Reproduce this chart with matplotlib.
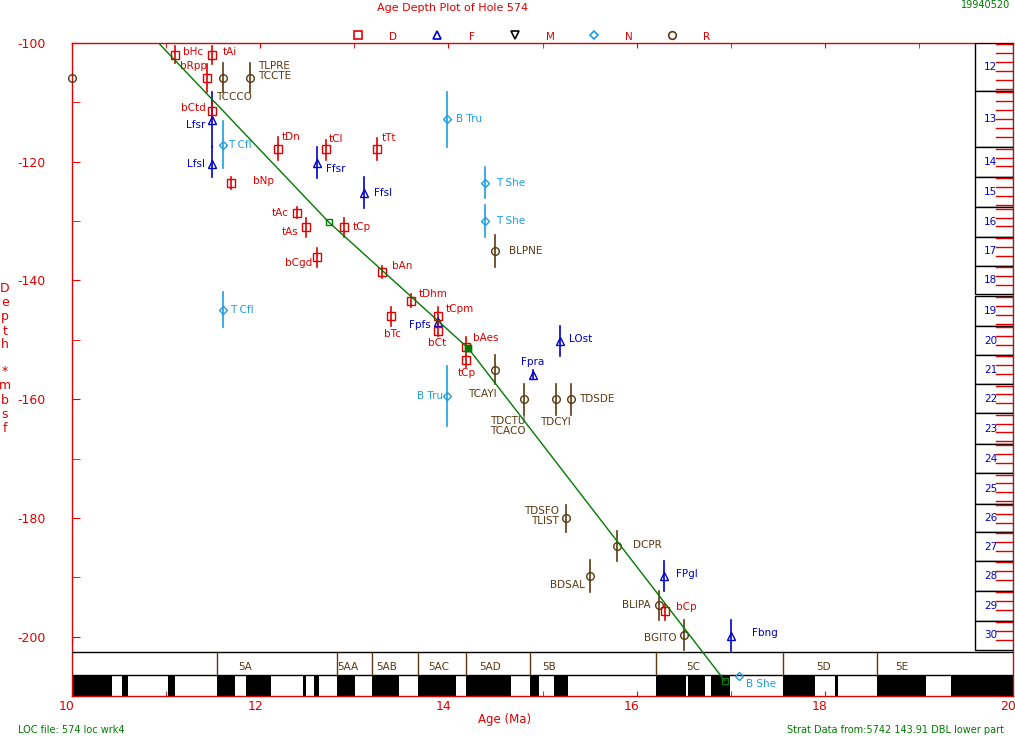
import matplotlib
matplotlib.use("Agg")
import matplotlib.pyplot as plt
import matplotlib.transforms as mtransforms
from matplotlib.patches import Rectangle
from matplotlib.lines import Line2D

plt.rcParams["font.family"] = ["DejaVu Sans"]
plt.rcParams["font.size"] = 7.5
plt.rcParams["axes.unicode_minus"] = False

# ---------------- data ----------------
# Diatom events (D)
names_D = ["bHc", "tAi", "bRpp", "bCtd", "tDn", "tCl", "tTt", "bNp", "tAc", "tAs",
           "tCp", "bCgd", "bAn", "tDhm", "bTc", "tCpm", "bCt", "bAes", "tCp", "bCp"]
age_D = [11.09, 11.49, 11.43, 11.49, 12.19, 12.70, 13.24, 11.69, 12.39, 12.49,
         12.89, 12.60, 13.29, 13.60, 13.39, 13.89, 13.89, 14.19, 14.19, 16.30]
depth_D = [-102.0, -102.0, -105.9, -111.5, -117.9, -117.9, -117.9, -123.6, -128.6, -131.0,
           -131.0, -136.0, -138.6, -143.5, -146.0, -146.0, -148.5, -151.2, -153.4, -195.7]
top_D = [-100.5, -100.5, -103.5, -109.8, -115.8, -116.3, -116.0, -122.5, -127.6, -129.4,
         -129.5, -134.5, -137.6, -142.3, -144.5, -144.5, -147.7, -149.5, -152.7, -194.5]
bot_D = [-103.4, -103.5, -108.3, -112.5, -119.7, -119.7, -119.7, -124.6, -129.5, -132.7,
         -132.6, -137.7, -139.6, -144.4, -147.7, -147.5, -149.4, -152.7, -154.5, -197.2]

# Foraminifer events (F)
names_F = ["Lfsr", "Lfsl", "Ffsr", "Ffsl", "Fpfs", "Fpra", "LOst", "FPgl", "Fbng"]
age_F = [11.49, 11.49, 12.60, 13.10, 13.89, 14.90, 15.19, 16.29, 17.00]
depth_F = [-112.9, -120.3, -120.2, -125.2, -147.0, -155.9, -150.2, -189.8, -199.9]
top_F = [-108.2, -117.5, -117.5, -122.5, -146.4, -155.1, -147.7, -187.3, -197.2]
bot_F = [-117.5, -122.5, -122.7, -127.8, -147.6, -156.6, -152.7, -192.3, -202.4]

# Nannofossil events (N)
names_N = ["T Cfl", "T Cfl", "B Tru", "T She", "T She", "B Tru", "B She"]
age_N = [11.60, 11.60, 13.99, 14.39, 14.39, 13.99, 17.09]
depth_N = [-117.1, -145.0, -112.8, -123.6, -130.0, -159.4, -206.6]
top_N = [-113.1, -142.0, -108.3, -120.9, -127.3, -154.4, -206.6]
bot_N = [-121.1, -147.9, -117.6, -126.1, -132.7, -164.5, -206.6]

# Radiolarian events (R)
names_R = ["", "TCCCO", "TLPRE\nTCCTE", "BLPNE", "TCAYI", "TDCTU\nTCACO", "TDCYI",
           "TDSDE", "TDSFO\nTLIST", "DCPR", "BDSAL", "BLIPA", "BGITO"]
age_R = [10.00, 11.60, 11.89, 14.49, 14.49, 14.80, 15.14, 15.30, 15.25, 15.79, 15.50, 16.24, 16.50]
depth_R = [-105.9, -105.9, -105.9, -135.0, -155.1, -160.0, -160.0, -160.0, -180.0, -184.7,
           -189.8, -194.7, -199.7]
top_R = [-105.9, -103.4, -103.4, -132.4, -152.6, -157.5, -157.5, -157.5, -177.8, -182.2,
         -187.1, -192.3, -197.2]
bot_R = [-105.9, -108.2, -108.3, -137.7, -157.5, -162.6, -162.6, -162.6, -182.3, -187.2,
         -192.4, -197.2, -202.3]

# Line of correlation (tie points)
loc_age = [10.92, 12.73, 14.21, 16.94]
loc_depth = [-100.0, -130.2, -151.4, -207.5]

# Magnetic polarity: normal intervals (Ma)
normal_start = [10.00, 10.53, 11.02, 11.54, 11.85, 12.45, 12.57, 12.82, 13.19, 13.68,
                14.19, 14.87, 15.12, 16.21, 16.55, 16.79, 17.56, 18.11, 18.55, 19.34]
normal_end = [10.42, 10.60, 11.09, 11.73, 12.11, 12.49, 12.62, 13.01, 13.47, 14.08,
              14.67, 14.96, 15.27, 16.53, 16.73, 16.99, 17.90, 18.14, 19.08, 20.00]

# Chrons
chron_bounds = [11.54, 12.82, 13.19, 13.68, 14.19, 14.87, 16.21, 17.56, 18.55]
chron_names = ["5A", "5AA", "5AB", "5AC", "5AD", "5B", "5C", "5D", "5E"]
chron_label_age = [11.77, 12.82, 13.23, 13.78, 14.33, 15.00, 16.53, 17.91, 18.75]

# Cores (mbsf, negative down)
core_num = list(range(12, 31))
core_top = [-100.0, -108.1, -117.6, -122.6, -127.7, -132.7, -137.5, -142.6, -147.7, -152.6,
            -157.5, -162.4, -167.6, -172.5, -177.6, -182.4, -187.3, -192.3, -197.3]
core_bot = [-108.1, -117.6, -122.6, -127.7, -132.7, -137.5, -142.2, -147.7, -152.6, -157.5,
            -162.4, -167.6, -172.5, -177.6, -182.4, -187.3, -192.3, -197.3, -202.3]
section_len = 1.5

# ---------------- styles / layout ----------------
RED = "#E00000"
BLUE = "#0000CC"
CYAN = "#1E9EE0"
BROWN = "#5A3812"
GREEN = "#007A00"

# label offsets in pixels (dx, dy, ha)
lab_D = [(8, 3, "left"), (10, 3, "left"), (0, 12, "right"), (-6, 3, "right"), (4, 12, "left"),
         (3, 10, "left"), (5, 11, "left"), (22, 2, "left"), (-8, 0, "right"), (-8, -5, "right"),
         (9, 0, "left"), (-4, -6, "right"), (10, 6, "left"), (8, 7, "left"), (1, -18, "center"),
         (8, 7, "left"), (-1, -12, "center"), (7, 9, "left"), (0, -13, "center"), (11, 4, "left")]
lab_F = [(-7, -5, "right"), (-7, 0, "right"), (9, -6, "left"), (10, 0, "left"), (-7, -3, "right"),
         (0, 13, "center"), (9, 2, "left"), (12, 2, "left"), (21, 3, "left")]
lab_N = [(6, 0, "left"), (8, 0, "left"), (9, 0, "left"), (11, 0, "left"), (11, 0, "left"),
         (-4, 0, "right"), (7, -8, "left")]
lab_R = [(0, 0, "left"), (-6, -19, "left"), (8, 7, "left"), (14, 0, "left"), (2, -24, "right"),
         (-34, -27, "left"), (0, -23, "center"), (8, 0, "left"), (-7, 2, "right"), (16, 1, "left"),
         (-5, -9, "right"), (-9, 0, "right"), (-7, -3, "right")]

W, H = 1015, 737
fig = plt.figure(figsize=(W / 100, H / 100), dpi=100)
ax = fig.add_axes([72 / W, 1 - 696 / H, (1013 - 72) / W, (696 - 43) / H])
ax.set_xlim(10, 20)
ax.set_ylim(-210.0, -100.0)

for sp in ax.spines.values():
    sp.set_color(RED)
    sp.set_linewidth(1.0)

ax.set_xticks(range(10, 21, 2))
ax.set_xticks(range(11, 20, 2), minor=True)
ax.set_yticks(range(-200, -99, 20))
ax.set_yticks(range(-210, -99, 10), minor=True)
ax.tick_params(axis="x", which="both", direction="in", length=3.6, color=RED,
               labelcolor=RED, labelsize=9, top=True, pad=3)
ax.tick_params(axis="y", which="both", direction="in", length=5.8, color=RED,
               labelcolor=RED, labelsize=9, pad=19)
ax.tick_params(axis="y", which="minor", labelleft=False)

# age labels sit a few pixels left of their ticks
shift = mtransforms.ScaledTranslation(-5 / 100, 0, fig.dpi_scale_trans)
for lbl in ax.get_xticklabels():
    lbl.set_transform(lbl.get_transform() + shift)

data_x_axes_y = mtransforms.blended_transform_factory(ax.transData, ax.transAxes)
axes_x_data_y = mtransforms.blended_transform_factory(ax.transAxes, ax.transData)

# chron band and polarity stripes
band_top = (696 - 652) / 653
stripe_top = (696 - 675) / 653
ax.plot([0, 1], [band_top, band_top], color="black", lw=1.0, transform=ax.transAxes, zorder=3)
ax.plot([0, 1], [stripe_top, stripe_top], color="black", lw=1.0, transform=ax.transAxes, zorder=3)
for a, b in zip(normal_start, normal_end):
    ax.add_patch(Rectangle((a, 0), b - a, stripe_top, transform=data_x_axes_y,
                           facecolor="black", edgecolor="none", zorder=2))
for c in chron_bounds:
    ax.plot([c, c], [stripe_top, band_top], color=BROWN, lw=1.0, transform=data_x_axes_y, zorder=3)
for name, a in zip(chron_names, chron_label_age):
    ax.text(a, stripe_top + 0.004, name, color=BROWN, fontsize=7.5, ha="left", va="bottom",
            transform=data_x_axes_y, zorder=4)

# core column
col_left = (975 - 72) / 941
tick_left = (996 - 72) / 941
for n, t, b in zip(core_num, core_top, core_bot):
    ax.add_patch(Rectangle((col_left, b), 1 - col_left, t - b, transform=axes_x_data_y,
                           facecolor="white", edgecolor="black", lw=1.0, zorder=3))
    d = t - 0.2
    while d > b + 0.3:
        ax.plot([tick_left, 1.0], [d, d], color=RED, lw=1.0, transform=axes_x_data_y, zorder=4)
        d -= section_len
    ax.text((col_left + 1) / 2 - 0.0035, (t + b) / 2, str(n), color=BLUE, fontsize=7.5,
            ha="center", va="center", transform=axes_x_data_y, zorder=5)

# event groups
def draw_group(ages, depths, tops, bots, names, labs, color, marker, ms):
    for a, d, t, b, nm, (dx, dy, ha) in zip(ages, depths, tops, bots, names, labs):
        if t != b:
            ax.plot([a, a], [t, b], color=color, lw=1.2, zorder=5)
        ax.plot([a], [d], marker=marker, ms=ms, mfc="none", mec=color, mew=1.0,
                clip_on=False, zorder=6)
        if nm:
            ax.annotate(nm, (a, d), xytext=(dx, dy), textcoords="offset pixels",
                        ha=ha, va="center", color=color, fontsize=7.5, linespacing=1.05,
                        zorder=7)

draw_group(age_R, depth_R, top_R, bot_R, names_R, lab_R, BROWN, "o", 5.5)
draw_group(age_N, depth_N, top_N, bot_N, names_N, lab_N, CYAN, "D", 4.0)
draw_group(age_F, depth_F, top_F, bot_F, names_F, lab_F, BLUE, "^", 5.5)
draw_group(age_D, depth_D, top_D, bot_D, names_D, lab_D, RED, "s", 5.5)

# line of correlation
ax.plot(loc_age, loc_depth, color=GREEN, lw=1.0, zorder=8)
ax.plot(loc_age[1:], loc_depth[1:], ls="none", marker="s", ms=4, mfc="none", mec=GREEN,
        mew=1.0, zorder=9)
ax.plot([loc_age[2]], [loc_depth[2]], ls="none", marker="s", ms=4, mfc=GREEN, mec=GREEN, zorder=9)

# titles and notes
fig.text(453 / W, 1 - 8 / H, "Age Depth Plot of Hole 574", color=RED, fontsize=8,
         ha="center", va="center")
fig.text(986 / W, 1 - 5 / H, "19940520", color=GREEN, fontsize=7, ha="center", va="center")
fig.text(505 / W, 1 - 720 / H, "Age (Ma)", color=RED, fontsize=8.5, ha="center", va="center")
fig.text(18 / W, 1 - 730 / H, "LOC file: 574 loc wrk4", color=GREEN, fontsize=7,
         ha="left", va="center")
fig.text(1004 / W, 1 - 730 / H, "Strat Data from:5742 143.91 DBL lower part", color=GREEN,
         fontsize=7, ha="right", va="center")

for ch, y in zip("Depth*mbsf", [289, 303, 317, 331, 345, 371, 386, 400, 414, 428]):
    fig.text(5 / W, 1 - y / H, ch, color=RED, fontsize=9, ha="center", va="center")

# group key along the top
key_marks = [("s", RED, "none", "D"), ("^", BLUE, "none", "F"), ("v", "black", "none", "M"),
             ("D", CYAN, "none", "N"), ("o", BROWN, "none", "R")]
for i, (m, c, fc, letter) in enumerate(key_marks):
    x0 = 358 + i * 78.5
    fig.add_artist(Line2D([x0 / W], [1 - 35 / H], marker=m, ms=5.5 if m != "D" else 4.5,
                          mec=c, mfc=fc, mew=1.2, ls="none", transform=fig.transFigure))
    fig.text((x0 + 35) / W, 1 - 37 / H, letter, color=RED, fontsize=7.5, ha="center", va="center")

fig.savefig("out.png", dpi=100)
